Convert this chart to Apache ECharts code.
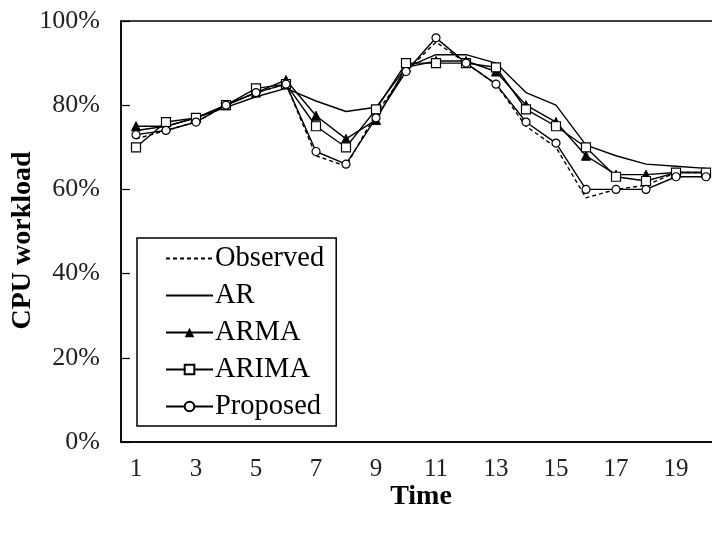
<!DOCTYPE html>
<html lang="en">
<head>
  <meta charset="UTF-8">
  <title>CPU workload prediction</title>
  <script src="https://cdn.jsdelivr.net/npm/echarts@6/dist/echarts.min.js"></script>
  <style>
    html, body { margin: 0; padding: 0; background: #fff; }
    #chart { width: 712px; height: 534px; }
  </style>
</head>
<body>
  <div id="chart"></div>
  <script>
    // time steps on the x axis
    const timeSteps = ['1','2','3','4','5','6','7','8','9','10','11','12','13','14','15','16','17','18','19','20'];

    // CPU workload in percent
    const observed = [72, 74, 76, 80, 83, 85, 68, 65.5, 78, 88, 95, 90, 85, 75, 70, 58, 60, 61, 64, 64];
    const ar       = [74, 75, 77, 79.5, 82, 84, 81, 78.5, 79.5, 89, 92, 92, 90, 83, 80, 70.5, 68, 66, 65.5, 65];
    const arma     = [75, 75, 77, 80, 83, 86, 77.5, 72, 76.5, 89, 90.5, 90.5, 88, 80, 76, 68, 63.5, 63.5, 64, 64];
    const arima    = [70, 76, 77, 80, 84, 85, 75, 70, 79, 90, 90, 90, 89, 79, 75, 70, 63, 62, 64, 64];
    const proposed = [73, 74, 76, 80, 83, 85, 69, 66, 77, 88, 96, 90, 85, 76, 71, 60, 60, 60, 63, 63];

    const serif = "'Liberation Serif', 'Times New Roman', serif";

    // all series share the same black line look
    function lineSeries(name, data, symbol, extra) {
      return Object.assign({
        name: name,
        type: 'line',
        data: data,
        symbol: symbol,
        symbolSize: 8,
        showSymbol: symbol !== 'none',
        lineStyle: { color: '#000', width: 1.4 },
        itemStyle: { color: '#fff', borderColor: '#000', borderWidth: 1.2 },
        animation: false
      }, extra || {});
    }

    const chart = echarts.init(document.getElementById('chart'));
    chart.setOption({
      backgroundColor: '#fff',
      grid: {
        left: 121, top: 21, width: 600, height: 421,
        outerBoundsMode: 'none',
        show: true, borderColor: '#000', borderWidth: 1.5
      },
      legend: {
        orient: 'vertical',
        left: 137,
        top: 238,
        padding: [6, 12, 5, 28],
        itemWidth: 47,
        itemHeight: 12,
        itemGap: 8,
        borderColor: '#000',
        borderWidth: 1.5,
        borderRadius: 0,
        textStyle: { fontFamily: serif, fontSize: 28.5, color: '#000', lineHeight: 28, padding: [0, 0, 0, -3] },
        data: [
          // plain lines carry no marker in the key
          { name: 'Observed', itemStyle: { opacity: 0 } },
          { name: 'AR', itemStyle: { opacity: 0 } },
          'ARMA', 'ARIMA', 'Proposed'
        ]
      },
      xAxis: {
        type: 'category',
        data: timeSteps,
        boundaryGap: true,
        name: 'Time',
        nameLocation: 'middle',
        nameMoveOverlap: false,
        nameGap: 41,
        nameTextStyle: { fontFamily: serif, fontWeight: 'bold', fontSize: 28, color: '#000' },
        axisLine: { lineStyle: { color: '#000', width: 1.5 } },
        axisTick: { inside: true, length: 9, lineStyle: { color: '#000', width: 1.2 } },
        axisLabel: { interval: 1, margin: 15, fontFamily: serif, fontSize: 25, color: '#222' },
        splitLine: { show: false }
      },
      yAxis: {
        type: 'value',
        min: 0,
        max: 100,
        interval: 20,
        name: 'CPU workload',
        nameLocation: 'middle',
        nameMoveOverlap: false,
        nameGap: 84,
        nameTextStyle: { fontFamily: serif, fontWeight: 'bold', fontSize: 28, color: '#000', padding: [0, 18, 0, 0] },
        axisLine: { show: true, lineStyle: { color: '#000', width: 1.5 } },
        axisTick: { show: true, inside: true, length: 9, lineStyle: { color: '#000', width: 1.2 } },
        axisLabel: { formatter: '{value}%', margin: 21, fontFamily: serif, fontSize: 26, color: '#222' },
        splitLine: { show: false }
      },
      series: [
        lineSeries('Observed', observed, 'none', { lineStyle: { color: '#000', width: 1.4, type: [4, 3] } }),
        lineSeries('AR', ar, 'none'),
        lineSeries('ARMA', arma, 'triangle', { symbolSize: 9, itemStyle: { color: '#000', borderColor: '#000' } }),
        lineSeries('ARIMA', arima, 'rect', { symbolSize: 9 }),
        lineSeries('Proposed', proposed, 'circle', { symbolSize: 8 })
      ]
    });
  </script>
</body>
</html>
